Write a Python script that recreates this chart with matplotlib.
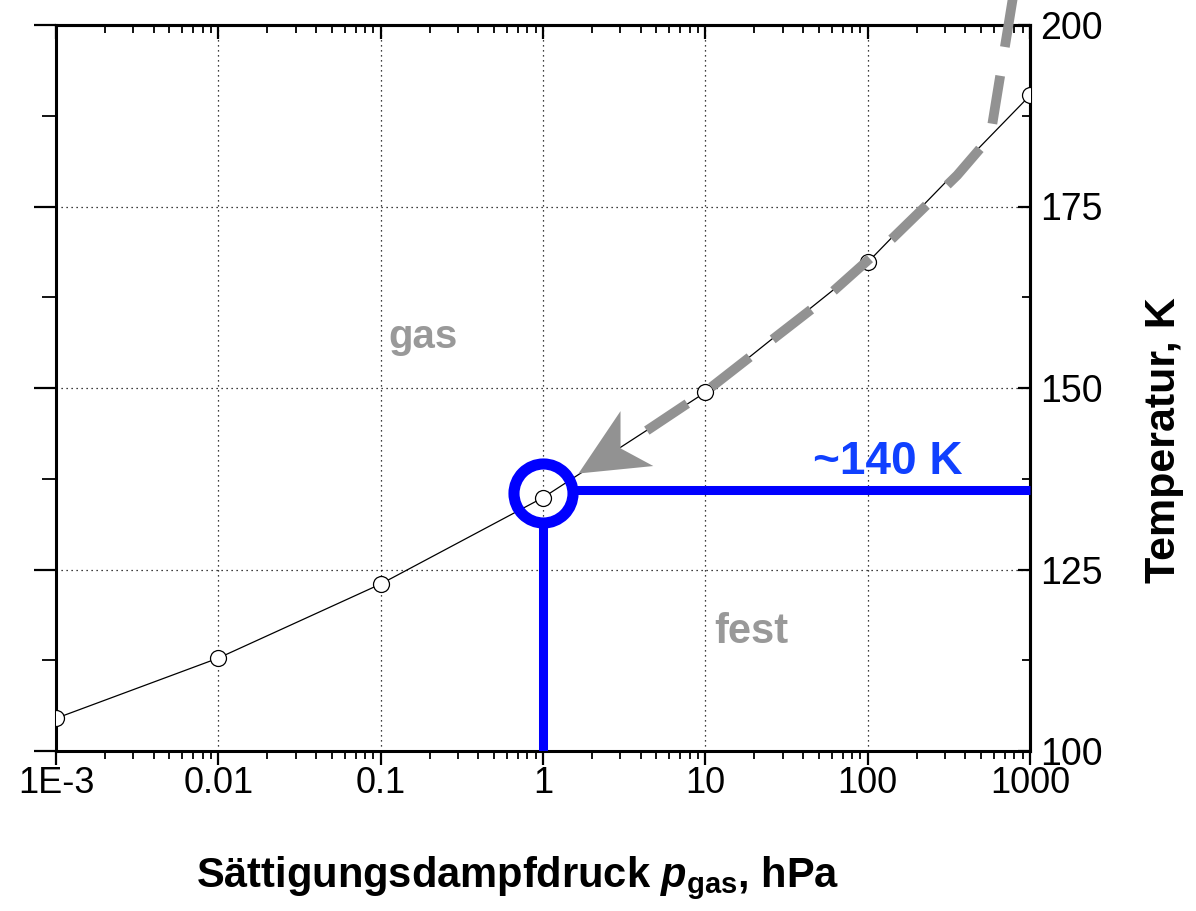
import numpy as np
import matplotlib
matplotlib.use("Agg")
import matplotlib.pyplot as plt
from matplotlib.path import Path
from matplotlib.markers import MarkerStyle
from matplotlib.transforms import Affine2D
from matplotlib.ticker import LogLocator, FixedLocator, FixedFormatter, NullFormatter, MultipleLocator

plt.rcParams['font.family'] = ['Liberation Sans', 'DejaVu Sans']
plt.rcParams['mathtext.fontset'] = 'custom'
plt.rcParams['mathtext.rm'] = 'Liberation Sans:bold'
plt.rcParams['mathtext.bf'] = 'Liberation Sans:bold'
plt.rcParams['mathtext.it'] = 'Liberation Sans:italic:bold'

# saturation curve
pressure_hpa = [1e-3, 1e-2, 1e-1, 1, 10, 100, 1000]
temperature_k = [104.5, 112.8, 123.0, 134.9, 149.4, 167.3, 190.3]

# x ticks
xtick_vals = [1e-3, 1e-2, 1e-1, 1, 10, 100, 1000]
xtick_labels = ["1E-3", "0.01", "0.1", "1", "10", "100", "1000"]
ytick_vals = [100, 125, 150, 175, 200]

# marked point
mark_p = 1
mark_T = 135.5
line_T = 135.9
hline_start_p = 1.47
vline_top_T = 131.8

# gray dashed arrow path (data coords) and tip
arrow_p = [789, 569, 356, 143.5, 53.2, 18.9, 10.3, 3.44]
arrow_T = [204.1, 184.6, 179.3, 170.7, 162.1, 154.3, 149.7, 142.6]
arrow_tip_p = 1.64
arrow_tip_T = 138.3

blue = "#0000ff"
gray = "#929292"

fig = plt.figure(figsize=(11.96, 9.11), dpi=100)
ax = fig.add_axes([56/1196, 160/911, 974/1196, 726/911])
ax.set_xscale("log")
ax.set_xlim(1e-3, 1000)
ax.set_ylim(100, 200)

ax.grid(True, which="major", linestyle=(0, (1, 3)), color="black", lw=0.9)

# curve
ax.plot(pressure_hpa, temperature_k, "-", color="black", lw=0.9,
        marker="o", ms=11.5, mfc="white", mec="black", mew=0.9, zorder=3)

# blue marker lines
ax.plot([hline_start_p, 1000], [line_T, line_T], color=blue, lw=6.5,
        solid_capstyle="butt", zorder=4, clip_on=False)
ax.plot([mark_p, mark_p], [100, vline_top_T], color=blue, lw=6.5,
        solid_capstyle="butt", zorder=4)
ax.plot([mark_p], [mark_T], "o", ms=42.5, mfc="none", mec=blue, mew=8, zorder=5)

# gray dashed arrow
ax.plot(arrow_p, arrow_T, color=gray, lw=7, linestyle=(0, (5, 3)),
        dash_capstyle="butt", clip_on=False, zorder=6)
tip_disp = ax.transData.transform((arrow_tip_p, arrow_tip_T))
base_disp = ax.transData.transform((arrow_p[-1], arrow_T[-1]))
ang = np.degrees(np.arctan2(tip_disp[1]-base_disp[1], tip_disp[0]-base_disp[0]))
head = Path([(0, 0), (-1, 0.47), (-0.72, 0), (-1, -0.47), (0, 0)],
            [Path.MOVETO, Path.LINETO, Path.LINETO, Path.LINETO, Path.CLOSEPOLY])
head_marker = MarkerStyle(head, transform=Affine2D().rotate_deg(ang))
ax.plot([arrow_tip_p], [arrow_tip_T], marker=head_marker, ms=98, mfc=gray,
        mec="none", ls="none", zorder=6, clip_on=False)

# texts
ax.text(0.182, 157.0, "gas", color="#999999", fontsize=29, fontweight="bold",
        ha="center", va="center")
ax.text(19.1, 116.4, "fest", color="#999999", fontsize=30, fontweight="bold",
        ha="center", va="center")
ax.text(133.6, 139.8, "~140 K", color="#1040ff", fontsize=33, fontweight="bold",
        ha="center", va="center")

# axes styling
for s in ax.spines.values():
    s.set_linewidth(2.2)

ax.xaxis.set_major_locator(FixedLocator(xtick_vals))
ax.xaxis.set_major_formatter(FixedFormatter(xtick_labels))
ax.xaxis.set_minor_locator(LogLocator(base=10, subs=np.arange(2, 10), numticks=20))
ax.xaxis.set_minor_formatter(NullFormatter())
ax.tick_params(axis="x", which="major", direction="out", length=10, width=1.6,
               labelsize=26, pad=1)
ax.tick_params(axis="x", which="minor", direction="out", length=6, width=1.3)

ax.yaxis.set_major_locator(FixedLocator(ytick_vals))
ax.yaxis.set_minor_locator(MultipleLocator(12.5))
ax.tick_params(axis="y", which="major", direction="out", length=16, width=1.6,
               labelleft=False)
ax.tick_params(axis="y", which="minor", direction="out", length=10, width=1.3)

top = ax.secondary_xaxis("top")
top.xaxis.set_major_locator(FixedLocator(xtick_vals))
top.xaxis.set_minor_locator(LogLocator(base=10, subs=np.arange(2, 10), numticks=20))
top.xaxis.set_minor_formatter(NullFormatter())
top.tick_params(axis="x", which="major", direction="in", length=10, width=1.6,
                labeltop=False)
top.tick_params(axis="x", which="minor", direction="in", length=6, width=1.3)
top.spines["top"].set_linewidth(2.2)

right = ax.secondary_yaxis("right")
right.yaxis.set_major_locator(FixedLocator(ytick_vals))
right.yaxis.set_minor_locator(MultipleLocator(12.5))
right.tick_params(axis="y", which="major", direction="in", length=9, width=1.6,
                  labelsize=27, pad=7)
right.tick_params(axis="y", which="minor", direction="in", length=6, width=1.3)
right.spines["right"].set_linewidth(2.2)
right.set_ylabel("Temperatur, K", fontsize=31, fontweight="bold", labelpad=30)
right.yaxis.label.set_y(0.428)

ax.set_xlabel(r"Sättigungsdampfdruck $\mathit{p}_\mathrm{gas}$, hPa",
              fontsize=30, fontweight="bold", labelpad=38)
ax.xaxis.label.set_x(0.474)

fig.savefig("out.png", dpi=100)
